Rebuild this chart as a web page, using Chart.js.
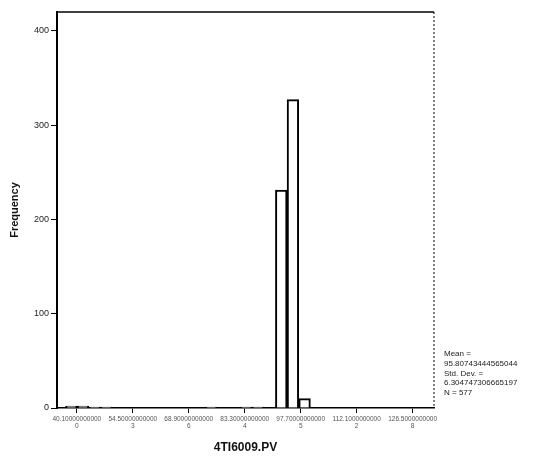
<!DOCTYPE html>
<html>
<head>
<meta charset="utf-8">
<script src="https://cdn.jsdelivr.net/npm/chart.js@4"></script>
<style>
  body { margin: 0; background: #fff; }
  #wrap { position: relative; width: 543px; height: 457px; }
  #stats {
    position: absolute; left: 444px; top: 349px;
    font: 8px "Liberation Sans", Arial, sans-serif; line-height: 9.8px; color: #222;
  }
</style>
</head>
<body>
<div id="wrap">
  <canvas id="histChart" width="543" height="457"></canvas>
  <div id="stats">Mean =<br>95.80743444565044<br>Std. Dev. =<br>6.304747306665197<br>N = 577</div>
</div>
<script>
// histogram bins (centre of each bin) and their frequencies
const binCenters = [38.7, 41.7, 44.7, 47.7, 74.7, 83.7, 86.7, 92.7, 95.7, 98.7];
const counts     = [2,    2,    1,    1,    1,    1,    1,    231,  327,  10];

// x-axis tick positions and their printed labels
const tickValues = [40.1, 54.5, 68.9, 83.3, 97.7, 112.1, 126.5];
const tickLabels = [
    ['40.10000000000', '0'],
    ['54.50000000000', '3'],
    ['68.90000000000', '6'],
    ['83.30000000000', '4'],
    ['97.70000000000', '5'],
    ['112.1000000000', '2'],
    ['126.5000000000', '8']
];
const yTicks = [0, 100, 200, 300, 400];

document.addEventListener('DOMContentLoaded', () => {
    const ctx = document.getElementById('histChart').getContext('2d');
    new Chart(ctx, {
        type: 'bar',
        data: {
            datasets: [{
                label: 'Frequency',
                data: binCenters.map((x, i) => ({ x: x, y: counts[i] })),
                backgroundColor: '#ffffff',
                borderColor: '#000000',
                borderWidth: 2,
                borderSkipped: 'bottom',
                barPercentage: 1,
                categoryPercentage: 1
            }]
        },
        options: {
            responsive: false,
            animation: false,
            layout: { padding: { left: 8, right: 109, top: 12, bottom: 2 } },
            plugins: { legend: { display: false }, tooltip: { enabled: false } },
            scales: {
                x: {
                    type: 'linear',
                    offset: false,
                    min: 35,
                    max: 132,
                    afterBuildTicks: (scale) => {
                        scale.ticks = tickValues.map(v => ({ value: v }));
                    },
                    afterFit: (scale) => { scale.height = 47; },
                    ticks: {
                        autoSkip: false,
                        maxRotation: 0,
                        color: '#555',
                        font: { family: 'Liberation Sans', size: 6.5 },
                        padding: 2,
                        callback: (v, i) => tickLabels[i]
                    },
                    grid: { offset: false, drawOnChartArea: false, drawTicks: true, tickLength: 5, color: '#000', lineWidth: 1 },
                    border: { display: true, color: '#000', width: 1.5 },
                    title: {
                        display: true,
                        text: '4TI6009.PV',
                        font: { family: 'Liberation Sans', size: 12, weight: 'bold' },
                        color: '#111',
                        padding: { top: 4, bottom: 0 }
                    }
                },
                y: {
                    min: 0,
                    max: 420,
                    afterBuildTicks: (scale) => {
                        scale.ticks = yTicks.map(v => ({ value: v }));
                    },
                    afterFit: (scale) => { scale.width = 49; },
                    ticks: {
                        color: '#222',
                        font: { family: 'Liberation Sans', size: 9 },
                        padding: 2
                    },
                    grid: { drawOnChartArea: false, drawTicks: true, tickLength: 6, color: '#000', lineWidth: 1 },
                    border: { display: true, color: '#000', width: 2 },
                    title: {
                        display: true,
                        text: 'Frequency',
                        font: { family: 'Liberation Sans', size: 11, weight: 'bold' },
                        color: '#111',
                        padding: { top: 0, bottom: 4 }
                    }
                }
            }
        },
        plugins: [{
            // frame around the plot area (top and right edges)
            id: 'frame',
            afterDraw(chart) {
                const a = chart.chartArea;
                const c = chart.ctx;
                c.save();
                c.strokeStyle = '#000';
                c.lineWidth = 1.5;
                c.beginPath();
                c.moveTo(a.left, a.top);
                c.lineTo(a.right, a.top);
                c.stroke();
                c.lineWidth = 1;
                c.setLineDash([2, 2]);
                c.beginPath();
                c.moveTo(a.right, a.top);
                c.lineTo(a.right, a.bottom);
                c.stroke();
                c.restore();
            }
        }]
    });
});
</script>
</body>
</html>
